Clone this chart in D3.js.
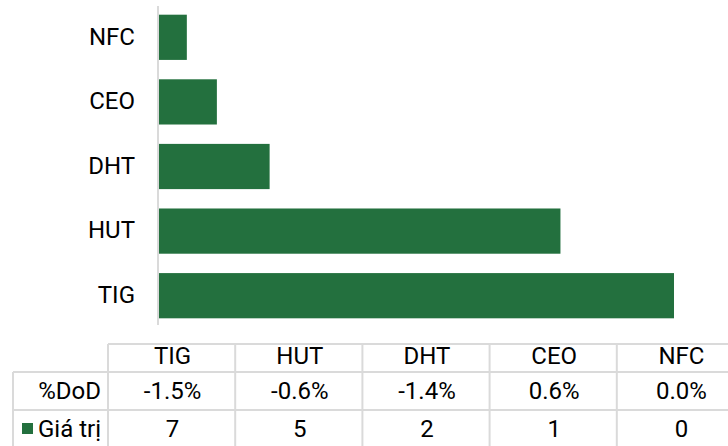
<!DOCTYPE html>
<html>
<head>
<meta charset="utf-8">
<script src="https://cdn.jsdelivr.net/npm/d3@7"></script>
<style>
  body { margin: 0; background: #fff; }
  text { font-family: Roboto, "Noto Sans", sans-serif; fill: #000; }
</style>
</head>
<body>
<div id="chart"></div>
<script>
// data, table order (left to right)
let tickers = ["TIG", "HUT", "DHT", "CEO", "NFC"];
let values = [7.03, 5.48, 1.51, 0.79, 0.38];
let dodLabels = ["-1.5%", "-0.6%", "-1.4%", "0.6%", "0.0%"];
let rowLabels = ["%DoD", "Giá trị"];

let width = 728,
    height = 446,
    fontSize = 24,
    barColor = "#23703e",
    gridColor = "#dadada";

let svg = d3.select("#chart").append("svg")
    .attr("width", width)
    .attr("height", height);

// scales
let x = d3.scaleLinear()
    .domain([0, d3.max(values)])
    .range([159, 674]);

let y = d3.scaleBand()
    .domain(tickers.slice().reverse())
    .range([5, 328])
    .paddingInner(0.3)
    .paddingOuter(0.15);

let rows = tickers.map((t, i) => ({ticker: t, value: values[i], dod: dodLabels[i]}));

// bars
svg.selectAll(".bar")
    .data(rows)
    .enter().append("rect")
    .attr("class", "bar")
    .attr("x", x(0))
    .attr("y", d => y(d.ticker))
    .attr("width", d => x(d.value) - x(0))
    .attr("height", y.bandwidth())
    .attr("fill", barColor);

// y axis line + labels
let yAxis = d3.axisLeft(y).tickSize(0).tickPadding(23);
let yAxisGroup = svg.append("g")
    .attr("transform", "translate(158,0)")
    .call(yAxis);
yAxisGroup.select(".domain")
    .attr("d", "M0,6V325")
    .attr("stroke", gridColor)
    .attr("stroke-width", 2);
yAxisGroup.selectAll("text")
    .attr("font-size", fontSize)
    .attr("dy", "0.3em")
    .style("font-family", "Roboto, sans-serif")
    .attr("fill", "#000");

// data table under the chart
let col = d3.scaleBand()
    .domain(tickers)
    .range([108, 108 + 127.2 * tickers.length]);

let rowY = [344, 372, 410, 450];
let table = svg.append("g")
    .attr("stroke", gridColor)
    .attr("stroke-width", 2);

// horizontal lines
table.append("line").attr("x1", 108).attr("x2", width).attr("y1", rowY[0]).attr("y2", rowY[0]);
table.append("line").attr("x1", 13).attr("x2", width).attr("y1", rowY[1]).attr("y2", rowY[1]);
table.append("line").attr("x1", 13).attr("x2", width).attr("y1", rowY[2]).attr("y2", rowY[2]);

// vertical lines
table.append("line").attr("x1", 13).attr("x2", 13).attr("y1", rowY[1]).attr("y2", height);
table.selectAll(".vline")
    .data(tickers)
    .enter().append("line")
    .attr("class", "vline")
    .attr("x1", d => col(d))
    .attr("x2", d => col(d))
    .attr("y1", rowY[0])
    .attr("y2", height);

let cellText = svg.append("g")
    .attr("font-size", fontSize)
    .attr("text-anchor", "middle");

cellText.selectAll(".head")
    .data(rows)
    .enter().append("text")
    .attr("x", d => col(d.ticker) + col.bandwidth() / 2 + 1)
    .attr("y", 364)
    .text(d => d.ticker);

cellText.selectAll(".dod")
    .data(rows)
    .enter().append("text")
    .attr("x", d => col(d.ticker) + col.bandwidth() / 2 + 1)
    .attr("y", 399)
    .text(d => d.dod);

cellText.selectAll(".val")
    .data(rows)
    .enter().append("text")
    .attr("x", d => col(d.ticker) + col.bandwidth() / 2 + 1)
    .attr("y", 437)
    .text(d => d3.format(".0f")(d.value));

// row labels
svg.append("text")
    .attr("x", 101)
    .attr("y", 399)
    .attr("font-size", fontSize)
    .attr("text-anchor", "end")
    .text(rowLabels[0]);

svg.append("rect")
    .attr("x", 22)
    .attr("y", 423)
    .attr("width", 11)
    .attr("height", 11)
    .attr("fill", barColor);

svg.append("text")
    .attr("x", 101)
    .attr("y", 437)
    .attr("font-size", fontSize)
    .attr("text-anchor", "end")
    .text(rowLabels[1]);
</script>
</body>
</html>
